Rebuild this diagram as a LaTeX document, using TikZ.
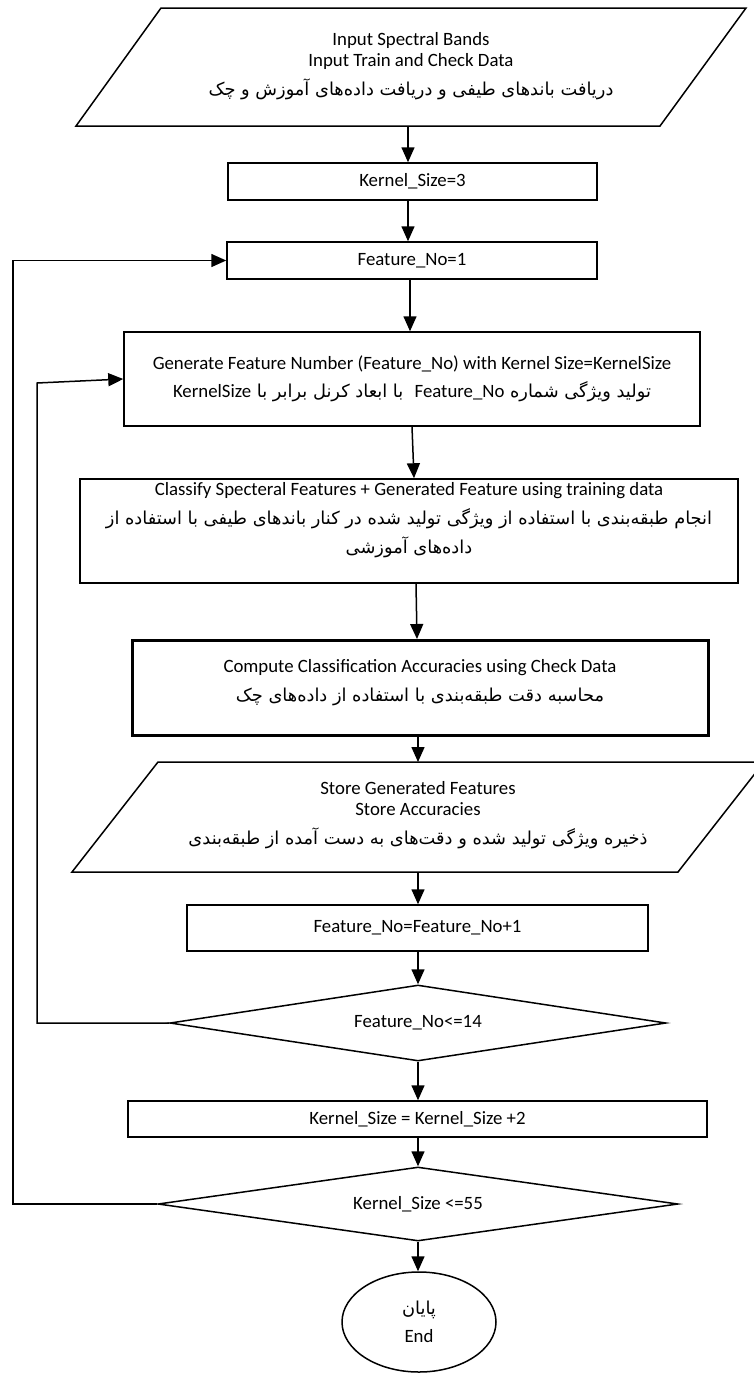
\documentclass[tikz,border=0pt]{standalone}
\usepackage{fontspec}
\setmainfont{Carlito}
\newfontfamily\farsi[Script=Arabic]{DejaVu Sans}
\TeXXeTstate=1
\usetikzlibrary{shapes.geometric,arrows.meta}
\lineskiplimit=-100pt
% Latin text size and Persian text size
\newcommand\en{\rmfamily\fontsize{18.8}{21}\selectfont}
\newcommand\fa{\farsi\fontsize{17.8}{21}\selectfont}
% right-to-left Persian line, left-to-right Latin run inside it
\newcommand\fatxt[1]{{\fa\beginR #1\endR}}
\newcommand\lat[1]{{\en\beginL #1\endL}}
\begin{document}
\begin{tikzpicture}[x=1pt,y=-1pt,line width=1.5pt,
  every node/.style={font=\en, inner sep=0pt},
  box/.style={draw, rectangle, align=center},
  thickbox/.style={box, line width=3pt},
  cond/.style={draw, diamond, aspect=6.5, align=center},
  term/.style={draw, ellipse, align=center},
  io/.style={draw, line join=miter},
  label/.style={align=center},
  arr/.style={-{Triangle[length=15pt,width=13pt]}},
]
\useasboundingbox (0,0) rectangle (753,1376);

% input data
\draw[io] (161,8) -- (746,8) -- (660,126) -- (76,126) -- cycle;
\node[label] (inText) at (411,66) {Input Spectral Bands\\Input Train and Check Data\\[8pt]\fatxt{دریافت باندهای طیفی و دریافت داده^^^^200cهای آموزش و چک}};
\coordinate (inOut) at (408,126);

% initialisation
\node[box, minimum width=369pt, minimum height=37pt] (ks3) at (412.5,181.5) {Kernel\_Size=3};
\node[box, minimum width=370pt, minimum height=37pt] (fn1) at (412,260.5) {Feature\_No=1};

% feature generation
\node[box, minimum width=576pt, minimum height=94pt] (gen) at (412,379) {Generate Feature Number (Feature\_No) with Kernel Size=KernelSize\\[7pt]\fatxt{تولید ویژگی شماره \lat{Feature\_No}\ \ با ابعاد کرنل برابر با \lat{KernelSize}}};

% classification
\node[box, minimum width=658pt, minimum height=104pt] (cls) at (409,531) {};
\node[label] (clsText) at (409,520) {Classify Specteral Features + Generated Feature using training data\\[8pt]\fatxt{انجام طبقه^^^^200cبندی با استفاده از ویژگی تولید شده در کنار باندهای طیفی با استفاده از}\\[8pt]\fatxt{داده^^^^200cهای آموزشی}};

% accuracy
\node[thickbox, minimum width=576pt, minimum height=95pt] (acc) at (420,688) {};
\node[label] (accText) at (420,683) {Compute Classification Accuracies using Check Data\\[8pt]\fatxt{محاسبه دقت طبقه^^^^200cبندی با استفاده از داده^^^^200cهای چک}};

% store results
\draw[io] (158,762) -- (764,762) -- (678,872) -- (72,872) -- cycle;
\node[label] (stText) at (418,815) {Store Generated Features\\Store Accuracies\\[8pt]\fatxt{ذخیره ویژگی تولید شده و دقت^^^^200cهای به دست آمده از طبقه^^^^200cبندی}};
\coordinate (stIn) at (418,762);
\coordinate (stOut) at (418,872);

\node[box, minimum width=461pt, minimum height=46pt] (inc) at (417.5,928) {Feature\_No=Feature\_No+1};
\node[cond, minimum width=496pt, minimum height=76pt] (fchk) at (418,1023) {Feature\_No<=14};
\node[box, minimum width=579pt, minimum height=36pt] (ks2) at (417.5,1119) {Kernel\_Size = Kernel\_Size +2};
\node[cond, minimum width=520pt, minimum height=74pt] (kchk) at (418,1204) {Kernel\_Size <=55};
\node[term, minimum width=154pt, minimum height=100pt] (stop) at (419,1322) {\fatxt{پایان}\\[7pt]End};

% main flow
\draw[arr] (inOut) -- (inOut |- ks3.north);
\draw[arr] ([xshift=-4.5pt]ks3.south) -- ([xshift=-4.5pt]ks3.south |- fn1.north);
\draw[arr] ([xshift=-2pt]fn1.south) -- ([xshift=-2pt]fn1.south |- gen.north);
\draw[arr] (gen.south) -- ([xshift=2pt]gen.south |- cls.north);
\draw[arr] ([xshift=7pt]cls.south) -- ([xshift=-3pt]acc.north);
\draw[arr] ([xshift=-2pt]acc.south) -- (stIn);
\draw[arr] (stOut) -- (stOut |- inc.north);
\draw[arr] ([xshift=0.5pt]inc.south) -- (fchk.north);
\draw[arr] (fchk.south) -- (fchk.south |- ks2.north);
\draw[arr] ([xshift=0.5pt]ks2.south) -- (kchk.north);
\draw[arr] (kchk.south) -- (kchk.south |- stop.north);

% loops back
\coordinate (innerLow) at (37,1023);
\coordinate (innerHigh) at (37,383);
\draw[arr] (fchk.west) -- (innerLow) -- (innerHigh) -- (gen.west);
\coordinate (outerLow) at (13,1204);
\coordinate (outerHigh) at (13,260.5);
\draw[arr] (kchk.west) -- (outerLow) -- (outerHigh) -- (fn1.west);
\end{tikzpicture}
\end{document}
